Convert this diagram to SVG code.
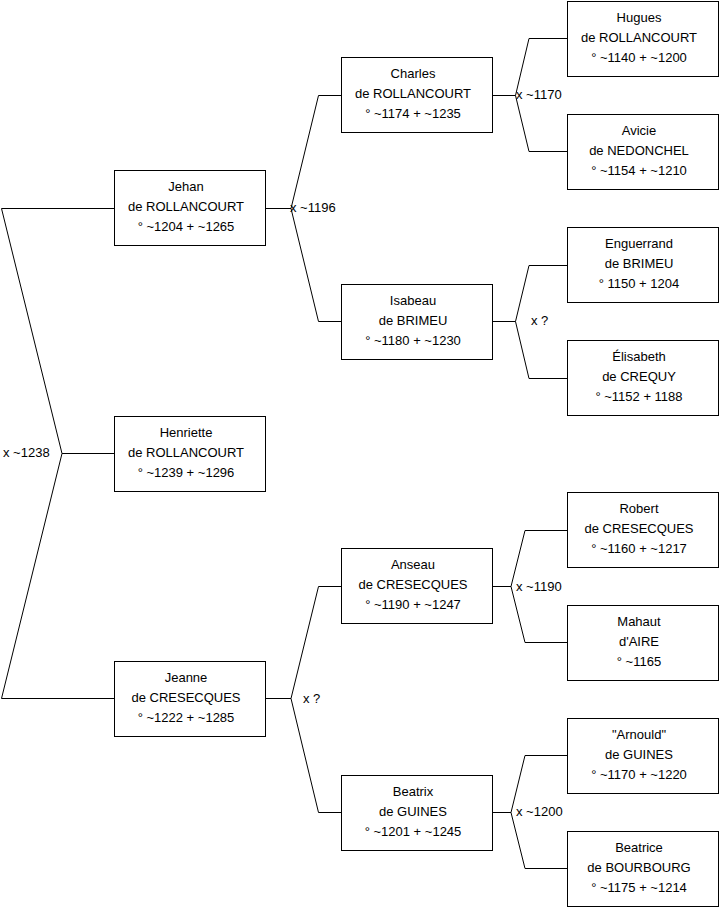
<svg xmlns="http://www.w3.org/2000/svg" width="719" height="908" viewBox="0 0 719 908">
<style>
.box rect{fill:#fff;stroke:#000;stroke-width:1}
.box text,.lbl{font-family:"Liberation Sans",Arial,sans-serif;font-size:13px;fill:#000}
.box text{text-anchor:middle}
#connectors path{fill:none;stroke:#000;stroke-width:1}
</style>
<rect width="719" height="908" fill="#fff"/>
<g id="connectors">
<path d="M114,208.5H1.5L62,453.5L1.5,698.5H114M62,453.5H114"/>
<path d="M265,208.5H291M318.5,95.5L291,208.5L318.5,321.5M318.5,95.5H341M318.5,321.5H341"/>
<path d="M265,698.5H291M318.5,586.5L291,698.5L318.5,812.5M318.5,586.5H341M318.5,812.5H341"/>
<path d="M492,95.5H515.5M529,38.5L515.5,95.5L529,151.5M529,38.5H567M529,151.5H567"/>
<path d="M492,321.5H515.5M529,265.5L515.5,321.5L529,378.5M529,265.5H567M529,378.5H567"/>
<path d="M492,586.5H511M525,530.5L511,586.5L525,642.5M525,530.5H567M525,642.5H567"/>
<path d="M492,812.5H511M525,755.5L511,812.5L525,868.5M525,755.5H567M525,868.5H567"/>
</g>
<g id="labels">
<text class="lbl" x="3" y="457">x ~1238</text>
<text class="lbl" x="290" y="212">x ~1196</text>
<text class="lbl" x="303" y="703">x ?</text>
<text class="lbl" x="516" y="99">x ~1170</text>
<text class="lbl" x="531" y="325">x ?</text>
<text class="lbl" x="516" y="591">x ~1190</text>
<text class="lbl" x="516" y="816">x ~1200</text>
</g>
<g id="jehan" class="box"><rect x="114.5" y="170.5" width="151" height="75"/><text x="186" y="191">Jehan</text><text x="186" y="211">de ROLLANCOURT</text><text x="186" y="231">° ~1204 + ~1265</text></g>
<g id="henriette" class="box"><rect x="114.5" y="416.5" width="151" height="75"/><text x="186" y="437">Henriette</text><text x="186" y="457">de ROLLANCOURT</text><text x="186" y="477">° ~1239 + ~1296</text></g>
<g id="jeanne" class="box"><rect x="114.5" y="661.5" width="151" height="75"/><text x="186" y="682">Jeanne</text><text x="186" y="702">de CRESECQUES</text><text x="186" y="722">° ~1222 + ~1285</text></g>
<g id="charles" class="box"><rect x="341.5" y="57.5" width="151" height="75"/><text x="413" y="78">Charles</text><text x="413" y="98">de ROLLANCOURT</text><text x="413" y="118">° ~1174 + ~1235</text></g>
<g id="isabeau" class="box"><rect x="341.5" y="284.5" width="151" height="75"/><text x="413" y="305">Isabeau</text><text x="413" y="325">de BRIMEU</text><text x="413" y="345">° ~1180 + ~1230</text></g>
<g id="anseau" class="box"><rect x="341.5" y="548.5" width="151" height="75"/><text x="413" y="569">Anseau</text><text x="413" y="589">de CRESECQUES</text><text x="413" y="609">° ~1190 + ~1247</text></g>
<g id="beatrix" class="box"><rect x="341.5" y="775.5" width="151" height="75"/><text x="413" y="796">Beatrix</text><text x="413" y="816">de GUINES</text><text x="413" y="836">° ~1201 + ~1245</text></g>
<g id="hugues" class="box"><rect x="567.5" y="1.5" width="151" height="75"/><text x="639" y="22">Hugues</text><text x="639" y="42">de ROLLANCOURT</text><text x="639" y="62">° ~1140 + ~1200</text></g>
<g id="avicie" class="box"><rect x="567.5" y="114.5" width="151" height="75"/><text x="639" y="135">Avicie</text><text x="639" y="155">de NEDONCHEL</text><text x="639" y="175">° ~1154 + ~1210</text></g>
<g id="enguerrand" class="box"><rect x="567.5" y="227.5" width="151" height="75"/><text x="639" y="248">Enguerrand</text><text x="639" y="268">de BRIMEU</text><text x="639" y="288">° 1150 + 1204</text></g>
<g id="elisabeth" class="box"><rect x="567.5" y="340.5" width="151" height="75"/><text x="639" y="361">Élisabeth</text><text x="639" y="381">de CREQUY</text><text x="639" y="401">° ~1152 + 1188</text></g>
<g id="robert" class="box"><rect x="567.5" y="492.5" width="151" height="75"/><text x="639" y="513">Robert</text><text x="639" y="533">de CRESECQUES</text><text x="639" y="553">° ~1160 + ~1217</text></g>
<g id="mahaut" class="box"><rect x="567.5" y="605.5" width="151" height="75"/><text x="639" y="626">Mahaut</text><text x="639" y="646">d'AIRE</text><text x="639" y="666">° ~1165</text></g>
<g id="arnould" class="box"><rect x="567.5" y="718.5" width="151" height="75"/><text x="639" y="739">"Arnould"</text><text x="639" y="759">de GUINES</text><text x="639" y="779">° ~1170 + ~1220</text></g>
<g id="beatrice" class="box"><rect x="567.5" y="831.5" width="151" height="75"/><text x="639" y="852">Beatrice</text><text x="639" y="872">de BOURBOURG</text><text x="639" y="892">° ~1175 + ~1214</text></g>
</svg>
